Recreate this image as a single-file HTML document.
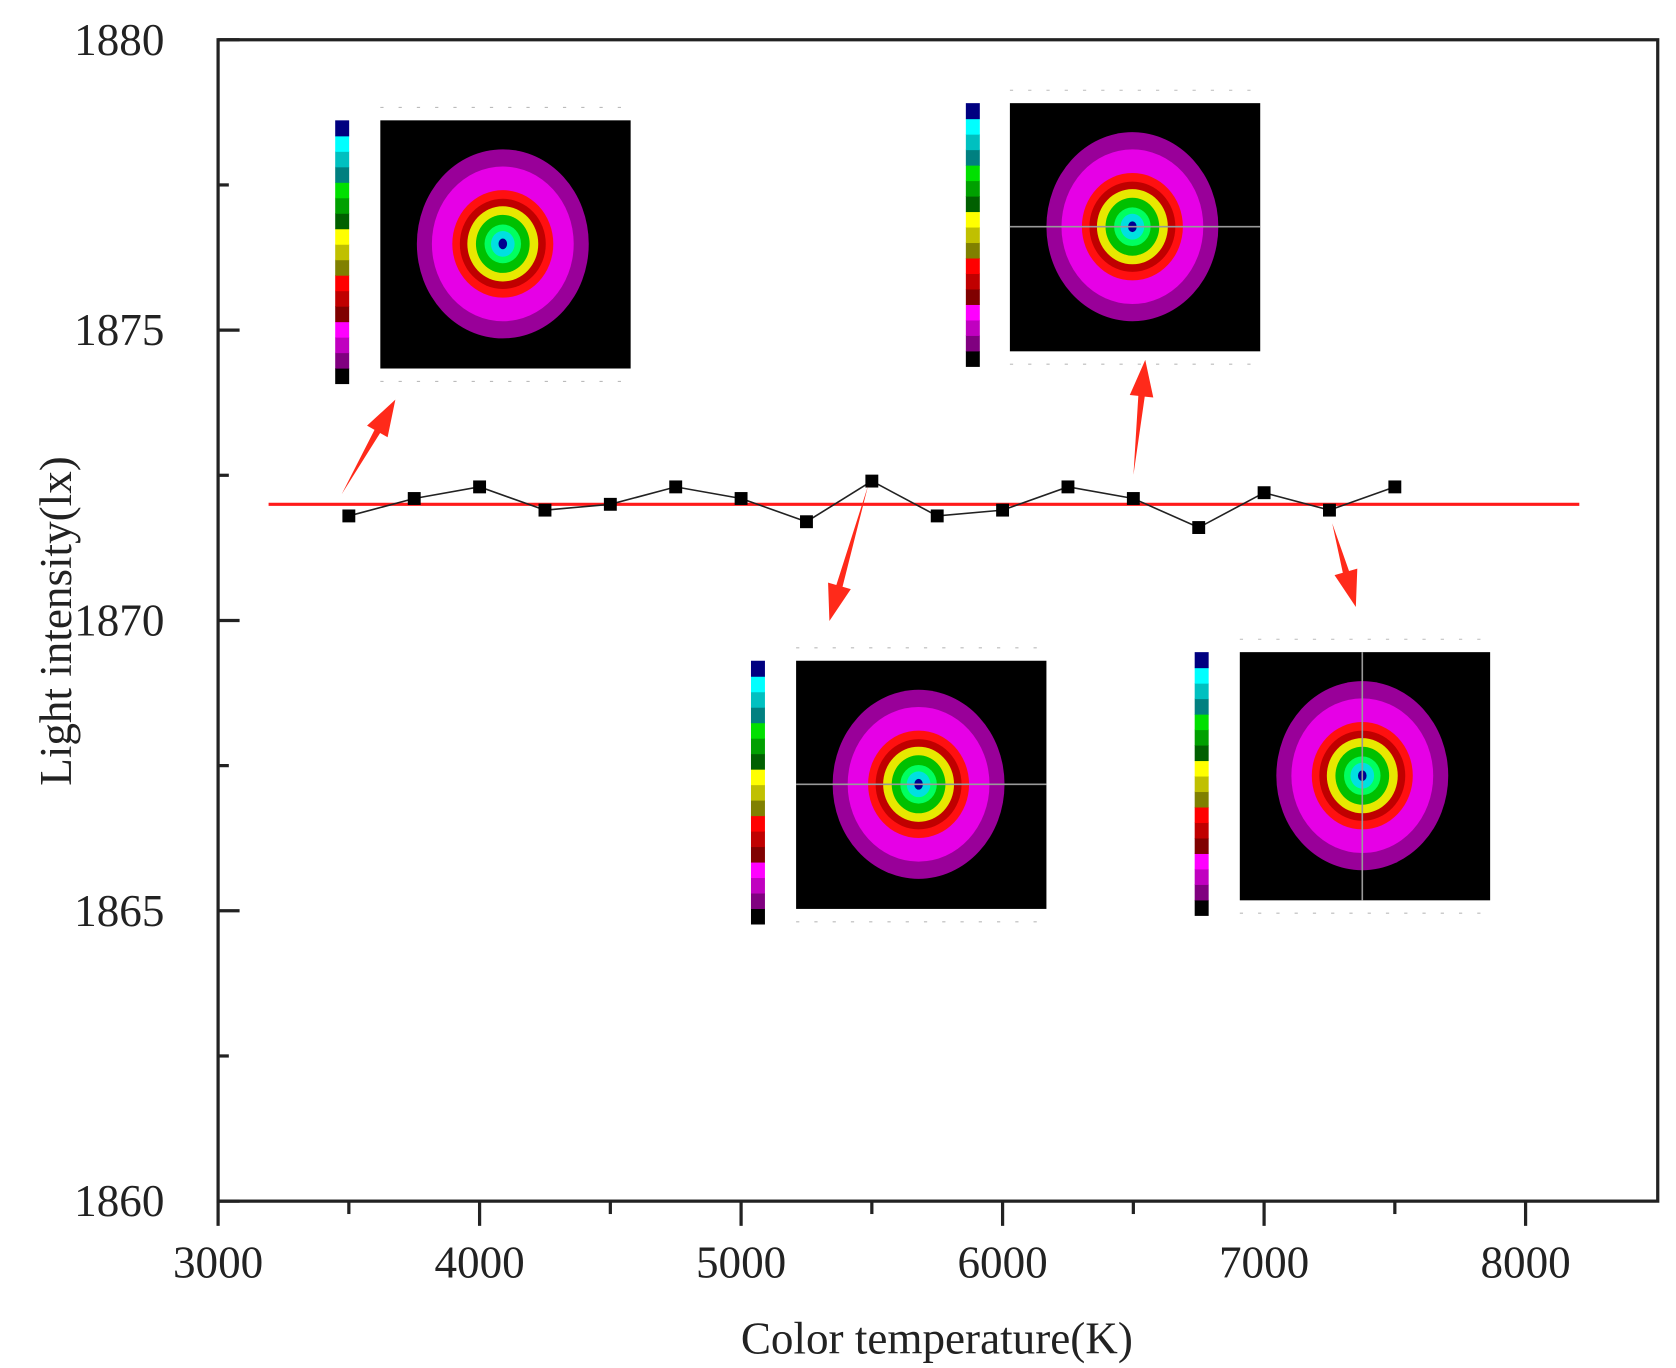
<!DOCTYPE html>
<html><head><meta charset="utf-8"><style>
html,body{margin:0;padding:0;background:#fff;}
svg{display:block;}
text{font-family:"Liberation Serif",serif;fill:#222;}
</style></head><body>
<svg id="chart" width="1676" height="1368" viewBox="0 0 1560 1273.3" xmlns="http://www.w3.org/2000/svg">
<g id="insets"></g>
<g id="series"></g>
<g id="axes"></g>
</svg>
<script>
const categories=[3500,3750,4000,4250,4500,4750,5000,5250,5500,5750,6000,6250,6500,6750,7000,7250,7500];
const intensity=[1871.8,1872.1,1872.3,1871.9,1872.0,1872.3,1872.1,1871.7,1872.4,1871.8,1871.9,1872.3,1872.1,1871.6,1872.2,1871.9,1872.3];
const meanLine=[1872.0];
const xTicks=[3000,4000,5000,6000,7000,8000];
const yTicks=[1860,1865,1870,1875,1880];
const xMinor=[3500,4500,5500,6500,7500];
const yMinor=[1862.5,1867.5,1872.5,1877.5];
const NS="http://www.w3.org/2000/svg";
const X0=203,X1=1543,Y0=37,Y1=1118;
function sx(v){return X0+(v-3000)/1000*243.4;}
function sy(v){return Y1-(v-1860)/20*(Y1-Y0);}
function mk(tag,attrs,parent){const e=document.createElementNS(NS,tag);for(const k in attrs)e.setAttribute(k,attrs[k]);parent.appendChild(e);return e;}
const axes=document.getElementById('axes'),series=document.getElementById('series'),insets=document.getElementById('insets');

const insetDefs=[[354,112,312,'none'],[940,96,899,'h'],[741,615,699,'h'],[1154,607,1112,'v']];
const bar=['#000','#800080','#c000c0','#ff00ff','#800000','#c00000','#ff0000','#808000','#c0c000','#ffff00','#006000','#00a000','#00e000','#008080','#00c0c0','#00ffff','#000080'];
const rings=[[80,88,'#990099'],[66,72,'#e600e6'],[47,50,'#ff1010'],[40,42,'#c00000'],[33,35,'#e8e800'],[25,27,'#00c000'],[17,18,'#00ff60'],[11,12,'#00e0e0'],[4,5,'#000090']];
insetDefs.forEach((d,i)=>{
  const g=mk('g',{},insets);
  
  
  const [bx,by,cx,line]=d;
  mk('rect',{x:bx,y:by,width:233,height:231,fill:'#000'},g);
  const ccx=bx+114,ccy=by+115;
  rings.forEach(r=>mk('ellipse',{cx:ccx,cy:ccy,rx:r[0],ry:r[1],fill:r[2]},g));
  if(line==='h')mk('line',{x1:bx,x2:bx+233,y1:ccy,y2:ccy,stroke:'#999','stroke-width':1.5},g);
  if(line==='v')mk('line',{x1:ccx,x2:ccx,y1:by,y2:by+231,stroke:'#999','stroke-width':1.5},g);
  const h=245/bar.length;
  bar.forEach((c,k)=>mk('rect',{x:cx,y:by+245-(k+1)*h,width:13,height:h+0.5,fill:c},g));
  mk('line',{x1:bx,x2:bx+233,y1:by-12,y2:by-12,stroke:'#bbb','stroke-width':1,'stroke-dasharray':'3 14'},g);
  mk('line',{x1:bx,x2:bx+233,y1:by+243,y2:by+243,stroke:'#bbb','stroke-width':1,'stroke-dasharray':'3 14'},g);
});

const ml=mk('line',{x1:250,x2:1470,y1:sy(meanLine[0]),y2:sy(meanLine[0]),stroke:'#ff1a1a','stroke-width':3},series);


const pl=mk('polyline',{points:categories.map((c,i)=>sx(c)+','+sy(intensity[i])).join(' '),fill:'none',stroke:'#222','stroke-width':1.5},series);


categories.forEach((c,i)=>{
  const r=mk('rect',{x:sx(c)-6,y:sy(intensity[i])-6,width:12,height:12,fill:'#000'},series);
  
  
});
const arrows=[[318,460,368,372],[808,452,772,578],[1055,442,1066,335],[1240,487,1262,565]];
arrows.forEach(a=>{
  const [x1,y1,x2,y2]=a;const dx=x2-x1,dy=y2-y1,L=Math.hypot(dx,dy),ux=dx/L,uy=dy/L,px=-uy,py=ux;
  const bx=x2-ux*34,by=y2-uy*34;
  const p=mk('path',{d:`M${x1},${y1} L${bx+px*3},${by+py*3} L${bx+px*11},${by+py*11} L${x2},${y2} L${bx-px*11},${by-py*11} L${bx-px*3},${by-py*3} Z`,fill:'#ff2a1a'},series);
  
  
});

const fr=mk('rect',{x:X0,y:Y0,width:X1-X0,height:Y1-Y0,fill:'none',stroke:'#222','stroke-width':3},axes);


xTicks.forEach(v=>{
  mk('line',{x1:sx(v),x2:sx(v),y1:Y1,y2:Y1+23,stroke:'#222','stroke-width':3},axes);
  const t=mk('text',{x:sx(v),y:Y1+71,'text-anchor':'middle','font-size':42},axes);t.textContent=v;
  
  
});
xMinor.forEach(v=>mk('line',{x1:sx(v),x2:sx(v),y1:Y1,y2:Y1+12,stroke:'#222','stroke-width':3},axes));
yTicks.forEach(v=>{
  mk('line',{x1:X0,x2:X0+20,y1:sy(v),y2:sy(v),stroke:'#222','stroke-width':3},axes);
  const t=mk('text',{x:X0-50,y:sy(v)+14,'text-anchor':'end','font-size':42},axes);t.textContent=v;
  
  
});
yMinor.forEach(v=>mk('line',{x1:X0,x2:X0+10,y1:sy(v),y2:sy(v),stroke:'#222','stroke-width':3},axes));
const xt=mk('text',{x:872,y:1260,'text-anchor':'middle','font-size':42},axes);xt.textContent='Color temperature(K)';


const yt=mk('text',{x:0,y:0,'text-anchor':'middle','font-size':42,transform:'translate(66,578) rotate(-90)'},axes);yt.textContent='Light intensity(lx)';


</script>
</body></html>
